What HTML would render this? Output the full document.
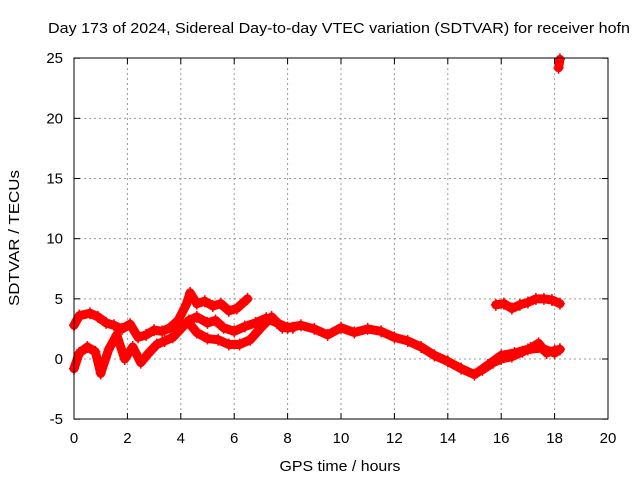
<!DOCTYPE html>
<html><head><meta charset="utf-8"><style>
body{margin:0;background:#fff}
svg{display:block;font-family:"Liberation Sans",sans-serif}
</style></head><body>
<svg id="c" width="640" height="480">
<rect width="640" height="480" fill="#fff"/>
<text x="339" y="33" text-anchor="middle" font-size="15" textLength="582" lengthAdjust="spacingAndGlyphs">Day 173 of 2024, Sidereal Day-to-day VTEC variation (SDTVAR) for receiver hofn</text>
<text x="340" y="471" text-anchor="middle" font-size="15" textLength="121" lengthAdjust="spacingAndGlyphs">GPS time / hours</text>
<text transform="translate(19,238) rotate(-90)" text-anchor="middle" font-size="15" textLength="136" lengthAdjust="spacingAndGlyphs">SDTVAR / TECUs</text>
<g id="grid"></g><g id="data"></g>
<rect x="74" y="58" width="534" height="361" fill="none" stroke="#000"/>
</svg>
<script>
const xTicks=[0,2,4,6,8,10,12,14,16,18,20];
const yTicks=[-5,0,5,10,15,20,25];
const trackA_t=[0,0.1,0.2,0.6,0.9,1.2,1.5,1.8,2.1,2.4,2.7,3.0,3.3,3.6,3.9,4.2,4.35,4.6,4.9,5.2,5.5,5.8,6.1,6.5];
const trackA_v=[2.8,3.2,3.6,3.8,3.5,3.0,2.8,2.5,2.9,1.8,2.0,2.4,2.3,2.6,3.2,4.5,5.5,4.6,4.8,4.4,4.6,4.0,4.2,5.0];
const trackB_t=[0,0.2,0.5,0.8,1.0,1.3,1.6,1.9,2.2,2.5,2.8,3.1,3.4,3.7,4.0,4.3,4.6,5.0,5.3,5.6,6.0,6.4,6.8,7.2,7.6,8.0];
const trackB_v=[-0.8,0.5,1.0,0.6,-1.2,0.8,2.0,0.0,1.0,-0.3,0.5,1.2,1.5,1.8,2.5,3.2,3.5,3.0,3.2,2.6,2.3,2.7,3.0,3.4,3.0,2.6];
const trackC_t=[4.3,4.6,5.0,5.4,5.8,6.2,6.6,7.0,7.4,7.8,8.2];
const trackC_v=[3.0,2.2,1.7,1.6,1.2,1.2,1.6,2.6,3.5,2.6,2.6];
const trackM_t=[8.0,8.5,9.0,9.5,10.0,10.5,11.0,11.5,12.0,12.5,13.0,13.5,14.0,14.5,15.0,15.5,16.0,16.5,17.0,17.5,18.0,18.2];
const trackM_v=[2.6,2.8,2.5,2.0,2.6,2.2,2.5,2.3,1.8,1.5,1.0,0.3,-0.2,-0.8,-1.3,-0.5,0.3,0.5,0.8,0.9,0.5,0.8];
const trackL_t=[15.3,15.7,16.0,16.4,16.8,17.1,17.4,17.7,18.0,18.2];
const trackL_v=[-0.9,-0.3,0.0,0.2,0.6,0.9,1.3,0.5,0.7,0.8];
const trackU_t=[15.8,16.1,16.4,16.7,17.0,17.3,17.6,17.9,18.2];
const trackU_v=[4.5,4.6,4.2,4.5,4.7,5.0,5.0,4.9,4.6];
const outlier_t=[18.15,18.2];
const outlier_v=[24.2,24.9];
const X=t=>74+t*(534/20), Y=v=>359-v*(361/30);
const NS="http://www.w3.org/2000/svg";
const g=document.getElementById('grid'), d=document.getElementById('data');
function mk(tag,attrs,parent){const e=document.createElementNS(NS,tag);for(const k in attrs)e.setAttribute(k,attrs[k]);parent.appendChild(e);return e;}
xTicks.forEach(t=>{
  if(t>0&&t<20){const l=mk('line',{x1:X(t),x2:X(t),y1:58,y2:419,stroke:'#999','stroke-dasharray':'2,3'},g);
  
  }
  mk('line',{x1:X(t),x2:X(t),y1:419,y2:413,stroke:'#000'},g);
  mk('line',{x1:X(t),x2:X(t),y1:58,y2:64,stroke:'#000'},g);
  const tx=mk('text',{x:X(t),y:443,'text-anchor':'middle','font-size':15},g);tx.textContent=t;
  
  
});
yTicks.forEach(v=>{
  if(v>-5&&v<25){const l=mk('line',{x1:74,x2:608,y1:Y(v),y2:Y(v),stroke:'#999','stroke-dasharray':'2,3'},g);
  
  }
  mk('line',{x1:74,x2:80,y1:Y(v),y2:Y(v),stroke:'#000'},g);
  mk('line',{x1:608,x2:602,y1:Y(v),y2:Y(v),stroke:'#000'},g);
  const tx=mk('text',{x:63,y:Y(v)+5,'text-anchor':'end','font-size':15},g);tx.textContent=v;
  
  
});
const tracks=[[trackA_t,trackA_v,'track-a'],[trackB_t,trackB_v,'track-b'],[trackC_t,trackC_v,'track-c'],[trackM_t,trackM_v,'track-main'],[trackL_t,trackL_v,'track-lower'],[trackU_t,trackU_v,'track-upper'],[outlier_t,outlier_v,'outlier']];
tracks.forEach(([ts,vs,name])=>{
  const pts=ts.map((t,i)=>X(t)+','+Y(vs[i])).join(' ');
  const pl=mk('polyline',{points:pts,fill:'none',stroke:'#f00','stroke-width':9,'stroke-linejoin':'round','stroke-linecap':'round'},d);
  
  
  ts.forEach((t,i)=>{
    const x=X(t),y=Y(vs[i]);
    const p=mk('path',{d:`M${x-5},${y}H${x+5}M${x},${y-6}V${y+6}`,stroke:'#f00','stroke-width':1.5},d);
    
    
  });
});
</script>
</body></html>
